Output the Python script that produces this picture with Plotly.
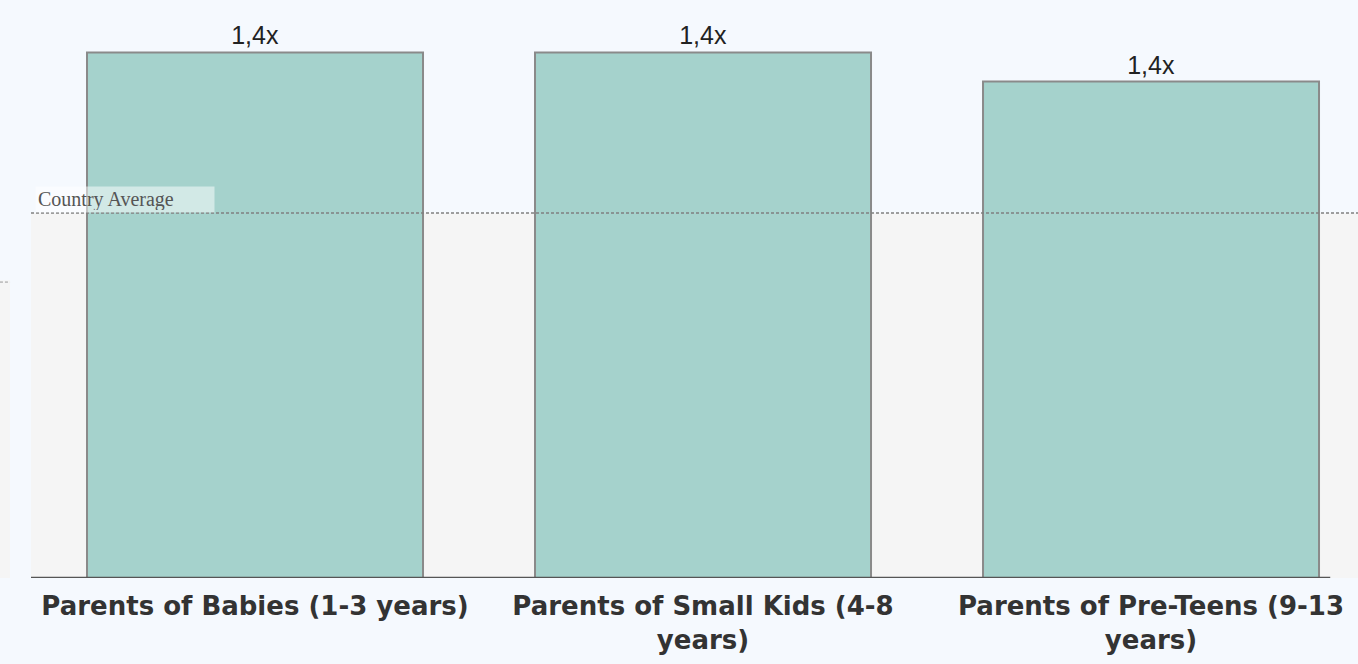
import plotly.graph_objects as go

# Segment index vs. country average (1.0 = average)
categories = [
    "Parents of Babies (1-3 years)",
    "Parents of Small Kids (4-8<br>years)",
    "Parents of Pre-Teens (9-13<br>years)",
]
index_values = [1.44, 1.44, 1.36]
value_labels = ["1,4x", "1,4x", "1,4x"]
country_average = 1.0
average_label = "Country Average"

BG = "#f5f9fe"
BAR = "#a5d2cc"
BAND = "#f5f5f5"

x_pos = list(range(len(categories)))

fig = go.Figure()
fig.add_trace(go.Bar(
    x=x_pos,
    y=index_values,
    width=0.75,
    marker=dict(color=BAR, line=dict(color="#8a8a8a", width=2)),
    text=value_labels,
    textposition="outside",
    textfont=dict(family="Liberation Sans, Arial", size=25, color="#222"),
    cliponaxis=False,
    hoverinfo="skip",
))

shapes = [
    # shaded band below the average
    dict(type="rect", xref="paper", yref="y", x0=0, x1=1, y0=0, y1=country_average,
         fillcolor=BAND, line=dict(width=0), layer="below"),
    # average reference line
    dict(type="line", xref="paper", yref="y", x0=0, x1=1,
         y0=country_average, y1=country_average,
         line=dict(color="#808080", width=1.3, dash="3px,2px"), layer="above"),
    # baseline
    dict(type="line", xref="x", yref="y", x0=-0.5, x1=2.4, y0=0, y1=0,
         line=dict(color="#555", width=2.5), layer="above"),
    # neighbouring panel edge at the left border
    dict(type="rect", xref="paper", yref="paper", x0=-0.0234, x1=-0.0158, y0=0, y1=0.515,
         fillcolor=BAND, line=dict(width=0), layer="below"),
    dict(type="line", xref="paper", yref="paper", x0=-0.0234, x1=-0.0158, y0=0.512, y1=0.512,
         line=dict(color="#999", width=1, dash="3px,2px"), layer="below"),
]

fig.add_annotation(
    xref="paper", yref="y", x=0.003, y=country_average, yshift=14,
    xanchor="left", yanchor="middle",
    text=average_label, showarrow=False,
    font=dict(family="Liberation Serif, Times New Roman", size=20, color="#555"),
    bgcolor="rgba(255,255,255,0.5)", borderpad=2,
    width=174, height=21, align="left",
)

fig.update_layout(
    width=1358, height=664,
    margin=dict(l=31, r=0, t=0, b=86),
    paper_bgcolor=BG, plot_bgcolor="rgba(0,0,0,0)",
    showlegend=False,
    shapes=shapes,
    bargap=0.25,
    xaxis=dict(
        range=[-0.5, 2.462], tickmode="array", tickvals=x_pos, ticktext=categories,
        showgrid=False, zeroline=False, showline=False, ticks="",
        tickfont=dict(family="DejaVu Sans", size=26, color="#333", weight="bold"),
        ticklabelstandoff=10,
    ),
    yaxis=dict(range=[0, 1.5836], visible=False, showgrid=False, zeroline=False),
)

fig.write_html("out.html")
